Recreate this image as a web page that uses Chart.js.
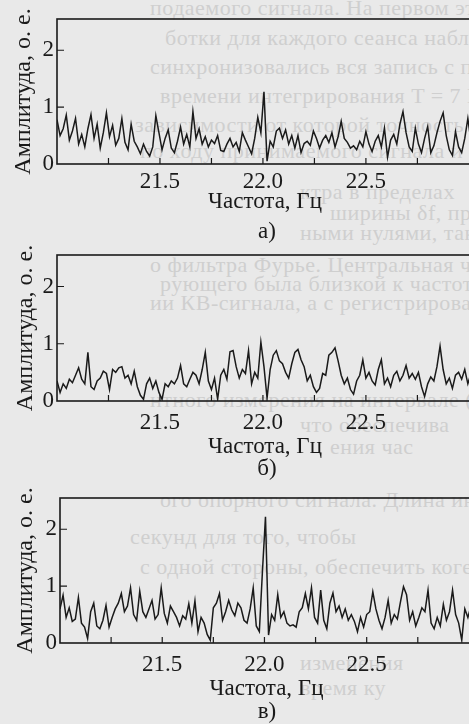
<!DOCTYPE html>
<html lang="ru">
<head>
<meta charset="utf-8">
<title>Спектры амплитуды</title>
<script src="https://cdn.jsdelivr.net/npm/chart.js@4.4.1/dist/chart.umd.min.js"></script>
<style>
  html, body { margin: 0; padding: 0; }
  body {
    width: 469px; height: 724px; overflow: hidden; position: relative;
    background: #e9e9e9;
    font-family: 'Liberation Serif', 'DejaVu Serif', serif;
  }
  .bleed {
    position: absolute; white-space: nowrap;
    font-size: 22px; line-height: 24px; color: #cfcfcf; letter-spacing: 0.5px;
  }
  canvas { position: absolute; left: 0; }
  .letter {
    position: absolute; left: 267px; transform: translateX(-50%);
    font-size: 23px; line-height: 26px; color: #1a1a1a;
  }
</style>
</head>
<body>

<!-- faint text of the page showing through the scan -->
<div class="bleed" style="top:-4px;left:150px">подаемого сигнала. На первом этапе обра</div>
<div class="bleed" style="top:26px;left:165px">ботки для каждого сеанса наблюдения</div>
<div class="bleed" style="top:55px;left:150px">синхронизовались вся запись с первичными</div>
<div class="bleed" style="top:84px;left:160px">времени интегрирования T = 7 N, где</div>
<div class="bleed" style="top:113px;left:135px">зависимости от которой точность устан</div>
<div class="bleed" style="top:139px;left:140px">по ходу принимаемого сигнала и устан</div>
<div class="bleed" style="top:180px;left:300px">ктра в пределах</div>
<div class="bleed" style="top:201px;left:330px">ширины δf, при</div>
<div class="bleed" style="top:221px;left:300px">ными нулями, так</div>
<div class="bleed" style="top:253px;left:150px">о фильтра Фурье. Центральная часть</div>
<div class="bleed" style="top:272px;left:160px">рующего была близкой к частоте сигнала</div>
<div class="bleed" style="top:291px;left:150px">ии КВ-сигнала, а с регистрированием</div>
<div class="bleed" style="top:388px;left:150px">нтного измерения на интервале (nT)</div>
<div class="bleed" style="top:413px;left:300px">что обеспечива</div>
<div class="bleed" style="top:435px;left:330px">ения час</div>
<div class="bleed" style="top:488px;left:160px">ого опорного сигнала. Длина интервала</div>
<div class="bleed" style="top:525px;left:130px">секунд для того, чтобы</div>
<div class="bleed" style="top:555px;left:140px">с одной стороны, обеспечить когерент</div>
<div class="bleed" style="top:651px;left:300px">изменения</div>
<div class="bleed" style="top:676px;left:300px">время ку</div>

<canvas id="chartA" width="480" height="228" style="top:0px"></canvas>
<canvas id="chartB" width="480" height="230" style="top:235px"></canvas>
<canvas id="chartC" width="480" height="229" style="top:478px"></canvas>

<div class="letter" style="top:218px">а)</div>
<div class="letter" style="top:455px">б)</div>
<div class="letter" style="top:698px">в)</div>

<script>
// frequency grid of the spectra, Hz
const freqStart = 21.0;
const freqStep = 0.015;
const freqMin = 21.0;
const freqMax = 23.02;

// labelled frequency ticks and the small inner tick marks
const freqTickLabels = [21.5, 22.0, 22.5];
const freqMarks = [21.25, 21.5, 21.75, 22.0, 22.25, 22.5, 22.75];
const ampTickLabels = [0, 1, 2];
const ampMarks = [1, 2];
const ampMax = 2.55;

// amplitude, arbitrary units
const ampA = [
  0.78,0.50,0.62,0.86,0.42,0.58,0.80,0.35,0.52,0.30,
  0.62,0.87,0.45,0.70,0.28,0.55,0.90,0.48,0.68,0.33,
  0.45,0.80,0.38,0.25,0.70,0.40,0.30,0.18,0.35,0.22,
  0.14,0.30,0.85,0.55,0.25,0.45,0.60,0.28,0.20,0.40,
  0.65,0.35,0.52,0.30,0.92,0.45,0.62,0.35,0.48,0.30,
  0.42,0.36,0.50,0.24,0.22,0.35,0.45,0.30,0.38,0.22,
  0.55,0.42,0.30,0.18,0.45,0.82,0.55,1.27,0.05,0.40,
  0.30,0.58,0.63,0.45,0.60,0.35,0.50,0.28,0.50,0.20,
  0.36,0.40,0.33,0.58,0.45,0.28,0.42,0.50,0.38,0.55,
  0.30,0.48,0.75,0.45,0.38,0.28,0.32,0.25,0.40,0.30,
  0.57,0.35,0.22,0.40,0.50,0.30,0.63,0.12,0.42,0.52,
  0.35,0.70,0.92,0.55,0.30,0.22,0.63,0.35,0.20,0.45,
  0.66,0.20,0.32,0.55,0.75,0.90,0.50,0.25,0.15,0.57,
  0.30,0.20,0.45,0.80,0.40,0.62,0.35,0.50,0.30,0.45,
  0.38
];

const ampB = [
  0.35,0.15,0.30,0.22,0.38,0.32,0.45,0.58,0.38,0.30,
  0.85,0.25,0.20,0.35,0.40,0.52,0.48,0.20,0.55,0.50,
  0.58,0.60,0.40,0.45,0.30,0.52,0.25,0.10,0.03,0.30,
  0.40,0.22,0.35,0.15,0.03,0.30,0.25,0.35,0.30,0.40,
  0.62,0.30,0.25,0.38,0.50,0.45,0.30,0.55,0.85,0.35,
  0.20,0.40,0.03,0.45,0.55,0.38,0.86,0.88,0.60,0.40,
  0.55,0.48,0.88,0.30,0.50,0.40,1.03,0.60,0.05,0.55,
  0.80,0.88,0.70,0.65,0.50,0.40,0.65,0.85,0.90,0.72,
  0.60,0.35,0.45,0.25,0.15,0.22,0.48,0.45,0.80,0.85,
  0.93,0.70,0.45,0.30,0.40,0.20,0.12,0.35,0.45,0.72,
  0.40,0.50,0.35,0.28,0.55,0.72,0.30,0.40,0.25,0.45,
  0.52,0.35,0.45,0.62,0.40,0.48,0.38,0.50,0.25,0.08,
  0.30,0.42,0.35,0.60,0.96,0.55,0.30,0.40,0.22,0.45,
  0.50,0.38,0.55,0.30,0.48,0.40,0.52,0.35,0.45,0.30,
  0.42
];

const ampC = [
  0.60,0.84,0.45,0.62,0.38,0.42,0.80,0.35,0.28,0.08,
  0.55,0.70,0.30,0.25,0.40,0.66,0.28,0.45,0.60,0.70,
  0.87,0.55,0.65,0.97,0.50,0.40,0.91,0.55,0.45,0.60,
  0.75,0.42,0.50,0.97,0.52,0.35,0.65,0.55,0.45,0.30,
  0.48,0.42,0.69,0.35,0.74,0.20,0.45,0.35,0.15,0.05,
  0.62,0.70,0.87,0.40,0.55,0.75,0.58,0.48,0.70,0.62,
  0.40,0.35,0.60,0.97,0.30,0.20,1.25,2.22,0.14,0.50,
  0.40,0.85,0.45,0.55,0.35,0.30,0.32,0.28,0.55,0.62,
  0.87,0.60,0.97,0.45,0.35,0.93,0.40,0.25,0.70,0.88,
  0.55,0.65,0.45,0.60,0.40,0.50,0.38,0.20,0.45,0.28,
  0.50,0.55,0.90,0.60,0.40,0.25,0.45,0.75,0.35,0.50,
  0.42,0.72,0.99,0.85,0.40,0.55,0.30,0.45,0.62,0.55,
  0.93,0.35,0.25,0.45,0.30,0.68,0.40,0.55,0.93,0.50,
  0.35,0.05,0.60,0.45,0.65,0.50,0.40,0.55,0.35,0.60,
  0.45
];

const ink = '#1a1a1a';
const serif = "'Liberation Serif', 'DejaVu Serif', serif";

// frame of the plot area plus short inner ticks (no grid in the original)
const framePlugin = {
    id: 'frame',
    afterDatasetsDraw(chart) {
        const { ctx, chartArea: a, scales: { x, y } } = chart;
        ctx.save();
        ctx.strokeStyle = ink;
        ctx.lineWidth = 1.6;
        ctx.strokeRect(a.left, a.top, a.right - a.left, a.bottom - a.top);
        ctx.lineWidth = 1.2;
        ctx.beginPath();
        freqMarks.forEach(v => {
            const px = x.getPixelForValue(v);
            ctx.moveTo(px, a.bottom);
            ctx.lineTo(px, a.bottom - 6);
        });
        ampMarks.forEach(v => {
            const py = y.getPixelForValue(v);
            ctx.moveTo(a.left, py);
            ctx.lineTo(a.left + 7, py);
        });
        ctx.stroke();
        ctx.restore();
    }
};

function makePanel(id, values, p) {
    const points = values.map((v, i) => ({ x: freqStart + freqStep * i, y: v }));

    return new Chart(document.getElementById(id), {
        type: 'line',
        data: {
            datasets: [{
                data: points,
                borderColor: ink,
                borderWidth: 1.5,
                pointRadius: 0,
                tension: 0
            }]
        },
        options: {
            responsive: false,
            animation: false,
            devicePixelRatio: 1,
            layout: { padding: { top: p.top, right: 7, left: 0, bottom: 0 } },
            plugins: { legend: { display: false }, tooltip: { enabled: false } },
            scales: {
                x: {
                    type: 'linear',
                    min: freqMin,
                    max: freqMax,
                    afterFit: s => { s.height = 64; },
                    afterBuildTicks: s => { s.ticks = freqTickLabels.map(v => ({ value: v })); },
                    grid: { display: false, drawTicks: false },
                    border: { display: false },
                    ticks: {
                        callback: v => v.toFixed(1),
                        color: ink,
                        font: { family: serif, size: 23 },
                        padding: p.tickPad,
                        maxRotation: 0,
                        autoSkip: false
                    },
                    title: {
                        display: true,
                        text: 'Частота, Гц',
                        color: ink,
                        font: { family: serif, size: 23 },
                        padding: { top: 0, bottom: p.titlePad }
                    }
                },
                y: {
                    min: 0,
                    max: ampMax,
                    afterFit: s => { s.width = p.left; },
                    afterBuildTicks: s => { s.ticks = ampTickLabels.map(v => ({ value: v })); },
                    grid: { display: false, drawTicks: false },
                    border: { display: false },
                    ticks: {
                        color: ink,
                        font: { family: serif, size: 23 },
                        padding: 3
                    },
                    title: {
                        display: true,
                        text: 'Амплитуда, о. е.',
                        color: ink,
                        font: { family: serif, size: 24 },
                        padding: { top: p.yTitlePad, bottom: 0 }
                    }
                }
            }
        },
        plugins: [framePlugin]
    });
}

makePanel('chartA', ampA, { top: 19, left: 57, tickPad: 4, titlePad: 12, yTitlePad: 9 });
makePanel('chartB', ampB, { top: 20, left: 57, tickPad: 8, titlePad: 4, yTitlePad: 11 });
makePanel('chartC', ampC, { top: 20, left: 60, tickPad: 8, titlePad: 4, yTitlePad: 11 });
</script>
</body>
</html>
